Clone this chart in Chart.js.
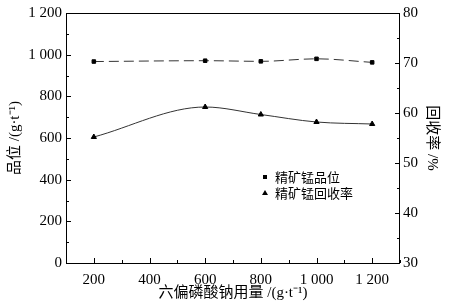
<!DOCTYPE html>
<html lang="zh">
<head>
  <meta charset="UTF-8">
  <title>六偏磷酸钠用量</title>
  <script src="https://cdn.jsdelivr.net/npm/chart.js"></script>
  <style>
    html, body { margin: 0; padding: 0; background: #fff; }
    #wrap { width: 453px; height: 306px; }
  </style>
</head>
<body>
  <div id="wrap"><canvas id="grafico" width="453" height="306"></canvas></div>

  <script>
    // datos
    const dosis = [200, 600, 800, 1000, 1200];
    const ley = [967, 971, 968, 980, 963];
    const recuperacion = [55.2, 61.2, 59.7, 58.2, 57.8];
    const nombres = ['精矿锰品位', '精矿锰回收率'];

    const fuente = '"Liberation Serif", "Noto Sans CJK SC", serif';
    const miles = v => v.toString().replace(/\B(?=(\d{3})+(?!\d))/g, ' ');

    // marco y ticks hacia dentro
    const marco = {
      id: 'marco',
      afterDraw(chart) {
        const ctx = chart.ctx, a = chart.chartArea;
        ctx.save();
        ctx.strokeStyle = '#000';
        ctx.lineWidth = 1;
        ctx.strokeRect(a.left + 0.5, a.top + 0.5, a.right - a.left - 1, a.bottom - a.top);
        ctx.beginPath();
        const sx = chart.scales.x;
        sx.ticks.forEach(t => {
          const px = Math.round(sx.getPixelForValue(t.value)) + 0.5;
          const len = t.value % 200 === 0 ? 5 : 3;
          ctx.moveTo(px, a.bottom); ctx.lineTo(px, a.bottom - len);
        });
        const sy = chart.scales.y;
        sy.ticks.forEach(t => {
          const py = Math.round(sy.getPixelForValue(t.value)) + 0.5;
          const len = t.value % 200 === 0 ? 5 : 3;
          ctx.moveTo(a.left, py); ctx.lineTo(a.left + len, py);
        });
        const sy1 = chart.scales.y1;
        sy1.ticks.forEach(t => {
          const py = Math.round(sy1.getPixelForValue(t.value)) + 0.5;
          const len = t.value % 10 === 0 ? 5 : 3;
          ctx.moveTo(a.right, py); ctx.lineTo(a.right - len, py);
        });
        ctx.stroke();

        // leyenda dentro del area
        ctx.fillStyle = '#000';
        ctx.fillRect(263, 175, 4, 4);
        ctx.beginPath();
        ctx.moveTo(265, 190); ctx.lineTo(268, 195); ctx.lineTo(262, 195); ctx.closePath();
        ctx.fill();
        ctx.font = '13px "Noto Sans CJK SC"';
        ctx.textBaseline = 'middle';
        ctx.fillText(nombres[0], 275, 177);
        ctx.fillText(nombres[1], 275, 193);
        ctx.restore();
      }
    };

    const ctx = document.getElementById('grafico').getContext('2d');
    new Chart(ctx, {
      type: 'line',
      data: {
        datasets: [
          {
            label: nombres[0],
            data: dosis.map((x, i) => ({ x: x, y: ley[i] })),
            yAxisID: 'y',
            borderColor: '#333',
            borderWidth: 1,
            borderDash: [10, 5],
            pointStyle: 'rect',
            pointRadius: 2.5,
            pointBackgroundColor: '#000',
            pointBorderColor: '#000',
            cubicInterpolationMode: 'monotone',
            fill: false
          },
          {
            label: nombres[1],
            data: dosis.map((x, i) => ({ x: x, y: recuperacion[i] })),
            yAxisID: 'y1',
            borderColor: '#333',
            borderWidth: 1,
            pointStyle: 'triangle',
            pointRadius: 3,
            pointBackgroundColor: '#000',
            pointBorderColor: '#000',
            cubicInterpolationMode: 'monotone',
            fill: false
          }
        ]
      },
      options: {
        responsive: false,
        animation: false,
        layout: { padding: { top: 11, right: 0, left: 0, bottom: 0 } },
        plugins: { legend: { display: false }, tooltip: { enabled: false } },
        scales: {
          x: {
            type: 'linear',
            min: 100, max: 1300,
            grid: { display: false, drawTicks: false },
            border: { display: false },
            ticks: {
              stepSize: 100, autoSkip: false, maxRotation: 0, padding: 8,
              color: '#000', font: { family: fuente, size: 15 },
              callback: v => v % 200 === 0 ? miles(v) : ''
            },
            title: {
              display: true, text: '六偏磷酸钠用量 /(g·t⁻¹)', color: '#000',
              font: { family: fuente, size: 15 }, padding: { top: 0, bottom: 4 }
            },
            afterFit: s => { s.height = 43; }
          },
          y: {
            position: 'left',
            min: 0, max: 1200,
            grid: { display: false, drawTicks: false },
            border: { display: false },
            ticks: {
              stepSize: 100, autoSkip: false, padding: 4,
              color: '#000', font: { family: fuente, size: 15 },
              callback: v => v % 200 === 0 ? miles(v) : ''
            },
            title: {
              display: true, text: '品位 /(g·t⁻¹)', color: '#000',
              font: { family: fuente, size: 15 }, padding: { top: 6, bottom: 0 }
            },
            afterFit: s => { s.width = 66; }
          },
          y1: {
            position: 'right',
            min: 30, max: 80,
            grid: { display: false, drawTicks: false },
            border: { display: false },
            ticks: {
              stepSize: 5, autoSkip: false, padding: 3,
              color: '#000', font: { family: fuente, size: 15 },
              callback: v => v % 10 === 0 ? v : ''
            },
            title: {
              display: true, text: '回收率 /%', color: '#000',
              font: { family: fuente, size: 15 }, padding: { top: 12, bottom: 0 }
            },
            afterFit: s => { s.width = 53; }
          }
        }
      },
      plugins: [marco]
    });
  </script>
</body>
</html>
